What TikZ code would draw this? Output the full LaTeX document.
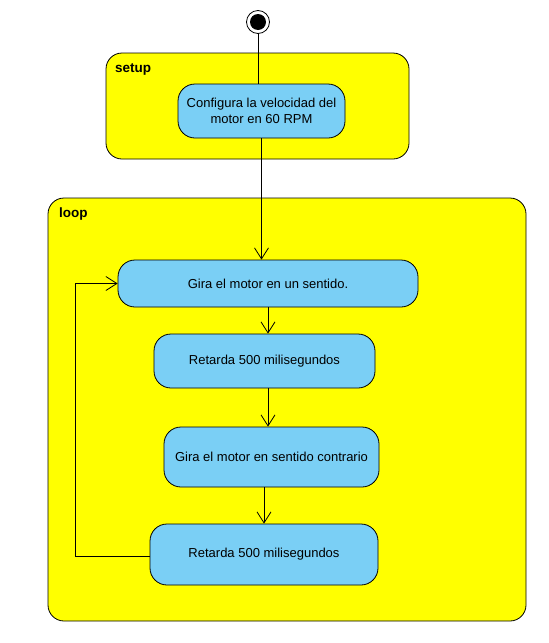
\documentclass[tikz,border=0pt]{standalone}
\usepackage{fontspec}
\setmainfont{Liberation Sans}
\usetikzlibrary{arrows.meta}
\definecolor{regionyellow}{RGB}{255,255,0}
\definecolor{actionblue}{RGB}{122,207,245}
\begin{document}
\begin{tikzpicture}[x=1pt,y=-1pt,
  region/.style={draw, fill=regionyellow, rounded corners=16pt, line width=0.8pt},
  action/.style={draw, fill=actionblue, rounded corners=17pt, line width=0.8pt, align=center, font=\fontsize{13}{16.7}\selectfont},
  title/.style={anchor=west, inner sep=0pt, font=\bfseries\fontsize{13.5}{15}\selectfont},
  flow/.style={-{Straight Barb[length=11pt,width=14pt,line width=0.8pt]}, line width=0.8pt}]
\useasboundingbox (0,0) rectangle (549,643);
\node[region, minimum width=303pt, minimum height=106pt] (setup) at (257.5,106) {};
\node[title] (setuptitle) at (115,69) {setup};
\node[region, minimum width=478pt, minimum height=423pt] (loop) at (287,409.5) {};
\node[title] (looptitle) at (59,214) {loop};
\node[draw, fill=white, circle, minimum size=23pt, inner sep=0pt, line width=0.8pt] (init) at (258,22) {};
\node[fill=black, circle, minimum size=16pt, inner sep=0pt] (initdot) at (258,22) {};
\node[action, minimum width=167pt, minimum height=54pt] (config) at (261.5,111) {Configura la velocidad del\\motor en 60 RPM};
\node[action, minimum width=300pt, minimum height=47pt] (gira1) at (268,283.5) {Gira el motor en un sentido.};
\node[action, minimum width=221pt, minimum height=54pt] (retarda1) at (264.5,361) {Retarda 500 milisegundos};
\node[action, minimum width=215pt, minimum height=60pt] (gira2) at (271.5,457) {Gira el motor en sentido contrario};
\node[action, minimum width=228pt, minimum height=61pt] (retarda2) at (264,554.5) {Retarda 500 milisegundos};
\coordinate (back) at (75.7,556);
\draw[line width=0.8pt] (init.south) -- (init.south |- config.north);
\draw[flow] (config.south) -- (config.south |- gira1.north);
\draw[flow] (gira1.south) -- (gira1.south |- retarda1.north);
\draw[flow] (gira1.south |- retarda1.south) -- (gira1.south |- gira2.north);
\draw[flow] (retarda2.north |- gira2.south) -- (retarda2.north);
\draw[flow] (retarda2.west |- back) -- (back) |- (gira1.west);
\end{tikzpicture}
\end{document}
